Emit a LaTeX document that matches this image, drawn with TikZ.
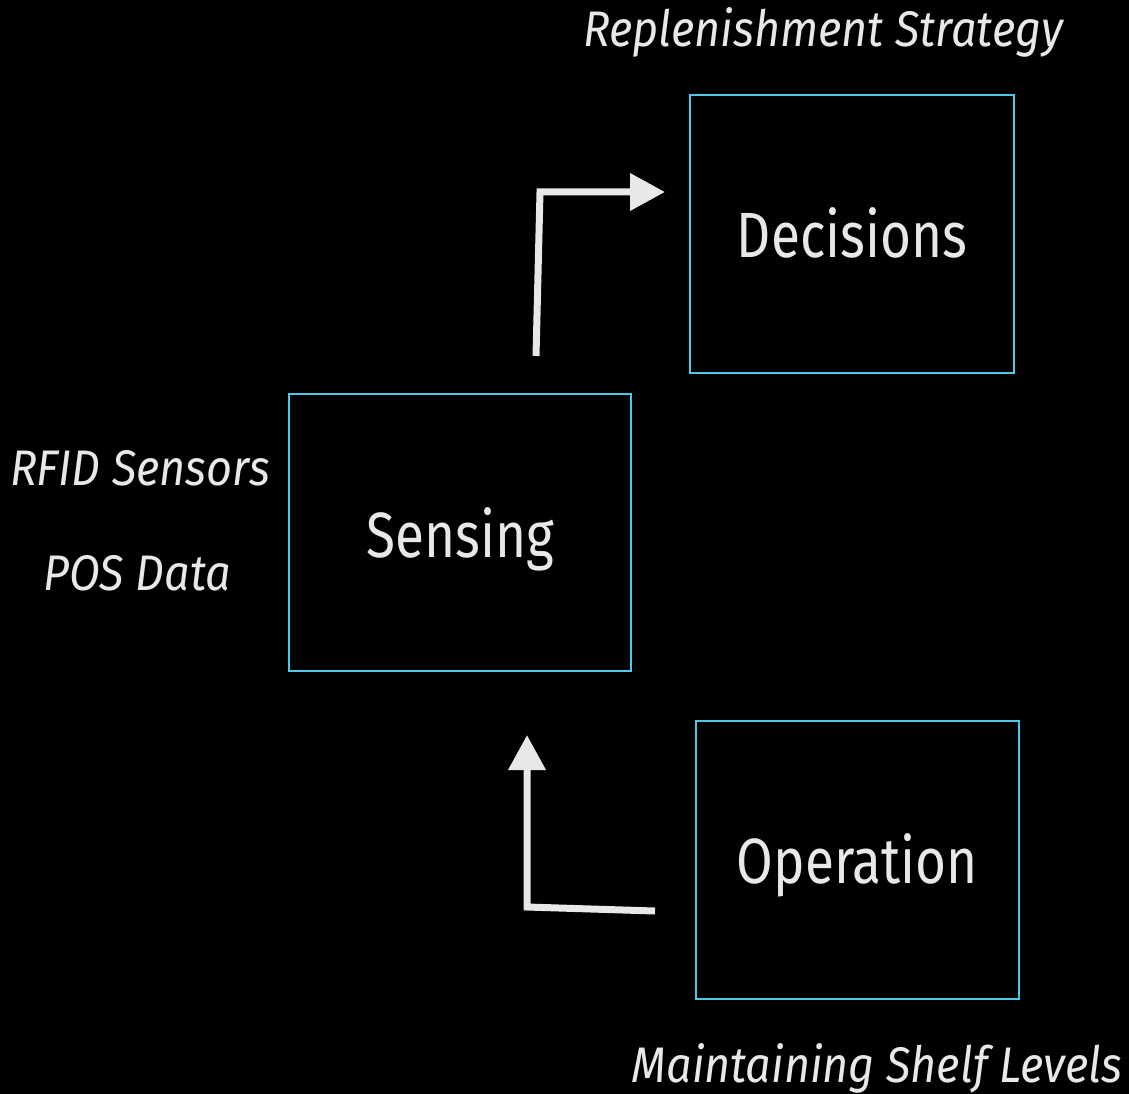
\documentclass[tikz,border=0pt]{standalone}
\usepackage{fontspec}
\setmainfont{Fira Sans}
\newfontfamily\boxfont[FakeStretch=0.83]{Fira Sans}
\newfontfamily\notefont[FakeStretch=0.9]{Fira Sans}
\usetikzlibrary{arrows.meta}
\definecolor{boxcyan}{HTML}{4CC8EA}
\definecolor{inkgray}{HTML}{E8E8E8}
\tikzset{
  box/.style={draw=boxcyan, line width=2.8pt, minimum width=#1, inner sep=0pt},
  boxlabel/.style={text=inkgray, font=\boxfont\fontsize{64}{66}\selectfont, anchor=base, inner sep=0pt},
  note/.style={text=inkgray, font=\notefont\fontsize{50}{52}\selectfont\itshape, inner sep=0pt, anchor=base},
  flow/.style={draw=inkgray, line width=7pt, -{Triangle[length=35pt,width=36pt]}},
}
\begin{document}
\begin{tikzpicture}[x=1pt,y=-1pt]
\fill[black] (0,0) rectangle (1129,1094);
\useasboundingbox (0,0) rectangle (1129,1094);
\node[box=324pt, minimum height=278pt] (dec) at (852,234) {};
\node[box=342pt, minimum height=277pt] (sen) at (460,532.5) {};
\node[box=323pt, minimum height=278pt] (op) at (857.5,860) {};
\node[boxlabel] (decl) at ([yshift=-23pt]dec.center) {Decisions};
\node[boxlabel] (senl) at ([yshift=-25pt]sen.center) {Sensing};
\node[boxlabel] (opl) at ([yshift=-23pt]op.center) {Operation};
\node[note] (rs) at (823,47) {Replenishment Strategy};
\node[note] (rfid) at (140,485) {RFID Sensors};
\node[note] (pos) at (137,590) {POS Data};
\node[note] (msl) at (877,1082) {Maintaining Shelf Levels};
\coordinate (a1s) at (536,356);
\coordinate (a1c) at (540,192);
\coordinate (a1e) at (665,192);
\coordinate (a2s) at (655,911);
\coordinate (a2c) at (527,907);
\coordinate (a2e) at (527,735);
\draw[flow] (a1s) -- (a1c) -- (a1e);
\draw[flow] (a2s) -- (a2c) -- (a2e);
\end{tikzpicture}
\end{document}
